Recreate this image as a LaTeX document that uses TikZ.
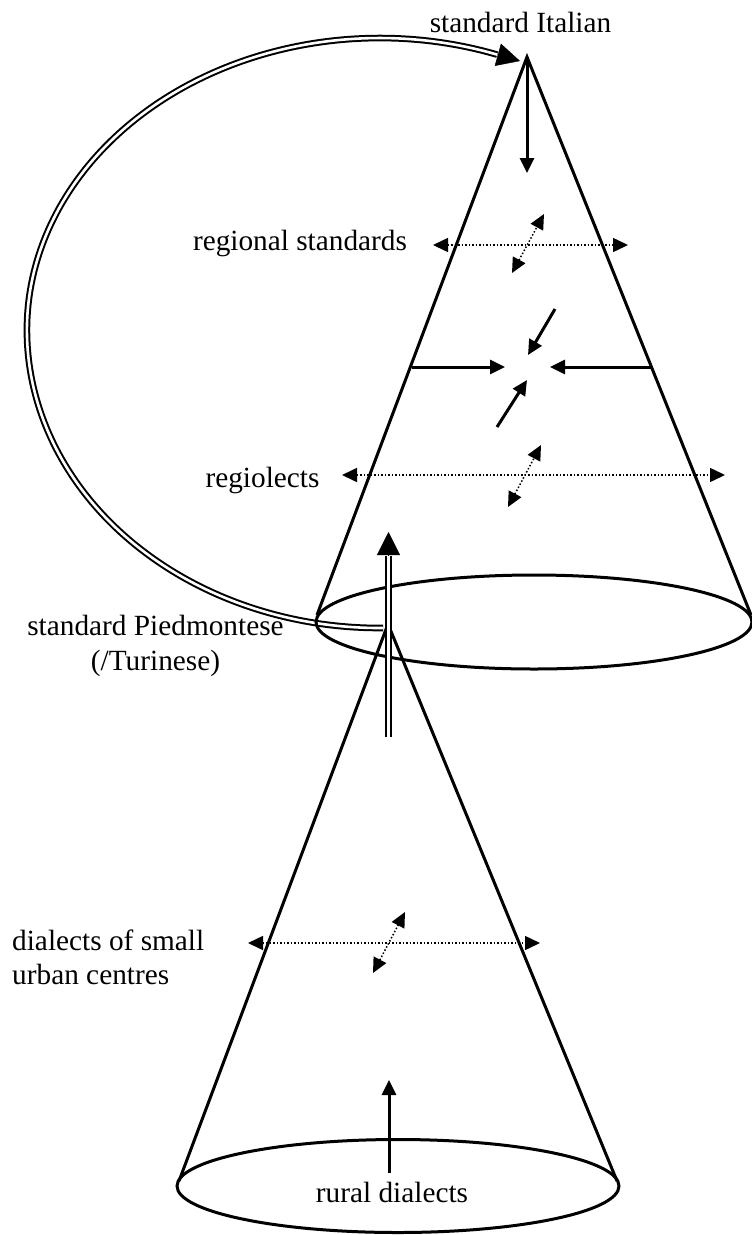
\documentclass[tikz,border=0pt]{standalone}
\usepackage{fontspec}
\setmainfont{Liberation Serif}
\usetikzlibrary{arrows.meta}
\begin{document}
\begin{tikzpicture}[x=1pt,y=-1pt,
  >={Triangle[length=15pt,width=14pt]},
  lbl/.style={font=\fontsize{29.3}{34}\selectfont, inner sep=0pt},
  cone/.style={line width=3pt},
  solidarrow/.style={line width=3pt,->},
  dotarrow/.style={line width=1.5pt,dotted,<->},
  dbl/.style={double=white,line width=2pt,double distance=2.6pt},
  bighead/.style={-{Triangle[length=23pt,width=23pt]}}]
\useasboundingbox (0,0) rectangle (752,1235);
% coordinates
\coordinate (itaApex) at (527,57);
\coordinate (upL) at (317,615);
\coordinate (upR) at (751,615);
\coordinate (upC) at (534,622);
\coordinate (pieApex) at (388,624);
\coordinate (loL) at (179,1181);
\coordinate (loR) at (617,1181);
\coordinate (loC) at (398,1186);
\coordinate (loopStart) at (383,628);
\coordinate (itaTip) at (520,61);
\coordinate (dblBot) at (388.5,737);
\coordinate (dblTop) at (388.5,556);
\coordinate (dblTip) at (388.5,532);
% loop (double line) from standard Piedmontese to standard Italian
\draw[dbl] (loopStart)
  arc[start angle=270.5, end angle=180, x radius=353pt, y radius=298pt]
  arc[start angle=180, end angle=70.6, x radius=353pt, y radius=292pt]
  coordinate (loopEnd);
\draw[bighead] (loopEnd) -- (itaTip);
% upper cone
\draw[cone] (upC) ellipse [x radius=218pt, y radius=47pt];
\draw[cone] (upL) -- (itaApex) -- (upR);
% lower cone
\draw[cone] (loC) ellipse [x radius=221pt, y radius=46.5pt];
\draw[cone] (loL) -- (pieApex) -- (loR);
% labels
\node[lbl,anchor=base] (ita) at (520.5,32) {standard Italian};
\node[lbl,anchor=base] (regstd) at (300,250) {regional standards};
\node[lbl,anchor=base] (regio) at (262.5,487) {regiolects};
\node[lbl,anchor=base] (pie1) at (155.5,635) {standard Piedmontese};
\node[lbl,anchor=base] (pie2) at (155.5,670) {(/Turinese)};
\node[lbl,anchor=base west] (dial1) at (12,950) {dialects of small};
\node[lbl,anchor=base west] (dial2) at (12,984) {urban centres};
\node[lbl,anchor=base] (rural) at (392,1202) {rural dialects};
% arrows inside the upper cone
\coordinate (a1) at (527,173);
\draw[solidarrow] (itaApex) -- (a1);
\coordinate (rsL) at (433,245); \coordinate (rsR) at (628,245);
\draw[dotarrow] (rsL) -- (rsR);
\coordinate (rsD1) at (512,273); \coordinate (rsD2) at (544,214);
\draw[dotarrow] (rsD1) -- (rsD2);
\coordinate (mL0) at (412,367); \coordinate (mL1) at (505,367);
\coordinate (mR0) at (652,367); \coordinate (mR1) at (550,367);
\draw[solidarrow] (mL0) -- (mL1);
\draw[solidarrow] (mR0) -- (mR1);
\coordinate (mU0) at (555,309); \coordinate (mU1) at (528,355);
\coordinate (mD0) at (497,427); \coordinate (mD1) at (527,380);
\draw[solidarrow] (mU0) -- (mU1);
\draw[solidarrow] (mD0) -- (mD1);
\coordinate (rgL) at (342,475); \coordinate (rgR) at (725,475);
\draw[dotarrow] (rgL) -- (rgR);
\coordinate (rgD1) at (508,507); \coordinate (rgD2) at (541,445);
\draw[dotarrow] (rgD1) -- (rgD2);
% arrows inside the lower cone
\coordinate (dlL) at (248,943); \coordinate (dlR) at (540,943);
\draw[dotarrow] (dlL) -- (dlR);
\coordinate (dlD1) at (373,973); \coordinate (dlD2) at (405,912);
\draw[dotarrow] (dlD1) -- (dlD2);
\coordinate (ru0) at (389,1173); \coordinate (ru1) at (389,1080);
\draw[solidarrow] (ru0) -- (ru1);
% double vertical arrow
\draw[dbl] (dblBot) -- (dblTop);
\draw[bighead] (dblTop) -- (dblTip);
\end{tikzpicture}
\end{document}
